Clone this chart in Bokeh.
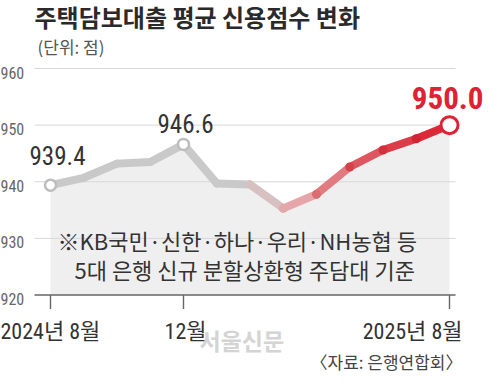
from bokeh.plotting import figure
from bokeh.models import Range1d
from bokeh.embed import file_html
from bokeh.resources import INLINE
from bokeh.core.properties import value

# ---------------- data ----------------
months = ["2024년 8월", "9월", "10월", "11월", "12월", "2025년 1월", "2월",
          "3월", "4월", "5월", "6월", "7월", "2025년 8월"]
scores = [939.4, 940.7, 943.2, 943.5, 946.6, 939.7, 939.5,
          935.3, 937.8, 942.6, 945.6, 947.6, 950.0]
y_ticks = [920, 930, 940, 950, 960]
x_tick_idx = [0, 4, 12]
x_tick_labels = ["2024년 8월", "12월", "2025년 8월"]
labelled_idx = [0, 4, 12]
title_text = "주택담보대출 평균 신용점수 변화"
unit_text = "(단위: 점)"
note_lines = ["※KB국민·신한·하나·우리·NH농협 등", "5대 은행 신규 분할상환형 주담대 기준"]
source_text = "〈자료: 은행연합회〉"
watermark = "서울신문"

# ---------------- styles ----------------
seg_colors = ["#c9c9c9", "#c9c9c9", "#c9c9c9", "#c9c9c9", "#c9c9c9", "#c9c9c9",
              "#d6c0c0", "#e6a6a9", "#e27b81", "#de5660", "#dc3c48", "#dc2a38"]
dot_idx = [7, 8, 9, 10, 11]
dot_colors = ["#e0aaad", "#da6c73", "#d5404b", "#d3303d", "#d12433"]
RED = "#dc2233"
NUM = "'Roboto Condensed', 'Noto Sans CJK KR', sans-serif"
KR = "'Noto Sans CJK KR', sans-serif"

# ---------------- geometry (pixel mapping) ----------------
W, H = 484, 373
PX, X0PX = 33.25, 50.0       # px per month, canvas x of first month
PY, Y920 = 5.6625, 294.5     # px per point, canvas y of 920

def cx(px):
    return (px - X0PX) / PX

def cy(py):
    return 920 + (Y920 - py) / PY

p = figure(width=W, height=H, output_backend="svg", toolbar_location=None,
           x_axis_location=None, y_axis_location=None, min_border=0,
           x_range=Range1d(cx(0), cx(W)), y_range=Range1d(cy(H), cy(0)))
p.outline_line_color = None
p.grid.visible = False
p.background_fill_color = "white"

idx = list(range(len(scores)))

# shaded area under line
p.varea(x=idx, y1=[y_ticks[0]] * len(idx), y2=scores, fill_color="#efefef")

# gridlines
grid_y = y_ticks[1:]
p.segment(x0=[cx(34)] * len(grid_y), x1=[cx(455)] * len(grid_y), y0=grid_y, y1=grid_y,
          line_color="#d8d8d8", line_width=1)
# baseline
p.segment(x0=[cx(34)], x1=[cx(455)], y0=[y_ticks[0]], y1=[y_ticks[0]],
          line_color="#666666", line_width=1.4)
# x ticks
p.segment(x0=x_tick_idx, x1=x_tick_idx, y0=[y_ticks[0]] * 3,
          y1=[y_ticks[0] - 14 / PY] * 3, line_color="#666666", line_width=1.4)

# y tick labels
p.text(x=[cx(0)] * len(y_ticks), y=y_ticks, text=[str(t) for t in y_ticks],
       text_align="left", text_baseline="middle", y_offset=4,
       text_font=value(NUM), text_font_size="16px", text_color="#666666")

# line segments
p.segment(x0=idx[:-1], x1=idx[1:], y0=scores[:-1], y1=scores[1:],
          line_color=seg_colors, line_width=8, line_cap="round")
# dots on the red part
p.scatter(x=dot_idx, y=[scores[i] for i in dot_idx], size=9,
          fill_color=dot_colors, line_color=None)
# open markers
p.scatter(x=labelled_idx[:2], y=[scores[i] for i in labelled_idx[:2]], size=11,
          fill_color="white", line_color="#bdbdbd", line_width=2.5)
p.scatter(x=[labelled_idx[2]], y=[scores[labelled_idx[2]]], size=17,
          fill_color="white", line_color=RED, line_width=3)

# value labels
p.text(x=[labelled_idx[0]], y=[scores[labelled_idx[0]]], text=[f"{scores[labelled_idx[0]]:.1f}"],
       x_offset=7, y_offset=-30, text_align="center", text_baseline="middle",
       text_font=value(NUM), text_font_size="25px", text_color="#333333")
p.text(x=[labelled_idx[1]], y=[scores[labelled_idx[1]]], text=[f"{scores[labelled_idx[1]]:.1f}"],
       x_offset=2, y_offset=-21, text_align="center", text_baseline="middle",
       text_font=value(NUM), text_font_size="25px", text_color="#333333")
p.text(x=[labelled_idx[2]], y=[scores[labelled_idx[2]]], text=[f"{scores[labelled_idx[2]]:.1f}"],
       x_offset=34, y_offset=-27, text_align="right", text_baseline="middle",
       text_font=value(NUM), text_font_size="31px", text_font_style="bold", text_color=RED)

# note
p.text(x=[cx(57)], y=[cy(239)], text=[note_lines[0]], text_align="left", text_baseline="middle",
       text_font=value(KR), text_font_size="22px", text_color="#333333")
p.text(x=[cx(74)], y=[cy(268)], text=[note_lines[1]], text_align="left", text_baseline="middle",
       text_font=value(KR), text_font_size="22px", text_color="#333333")

# watermark
p.text(x=[cx(199)], y=[cy(339)], text=[watermark], text_align="left", text_baseline="middle",
       text_font=value(KR), text_font_size="23px", text_font_style="bold", text_color="#d4d4d4")

# x labels
p.text(x=[x_tick_idx[0]], y=[y_ticks[0]], text=[x_tick_labels[0]], x_offset=-50, y_offset=36,
       text_align="left", text_baseline="middle",
       text_font=value(NUM), text_font_size="22px", text_color="#333333")
p.text(x=[x_tick_idx[1]], y=[y_ticks[0]], text=[x_tick_labels[1]], x_offset=2, y_offset=36,
       text_align="center", text_baseline="middle",
       text_font=value(NUM), text_font_size="22px", text_color="#333333")
p.text(x=[x_tick_idx[2]], y=[y_ticks[0]], text=[x_tick_labels[2]], x_offset=13, y_offset=36,
       text_align="right", text_baseline="middle",
       text_font=value(NUM), text_font_size="22px", text_color="#333333")

# title & unit
p.text(x=[cx(34)], y=[cy(16)], text=[title_text], text_align="left", text_baseline="middle",
       text_font=value(KR), text_font_size="24px", text_font_style="bold", text_color="#2a2a2a")
p.text(x=[cx(37)], y=[cy(46)], text=[unit_text], text_align="left", text_baseline="middle",
       text_font=value(KR), text_font_size="17px", text_color="#555555")

# source
p.text(x=[cx(462)], y=[cy(361)], text=[source_text], text_align="right", text_baseline="middle",
       text_font=value(KR), text_font_size="17px", text_color="#444444")

open("out.html", "w").write(file_html(p, INLINE))
